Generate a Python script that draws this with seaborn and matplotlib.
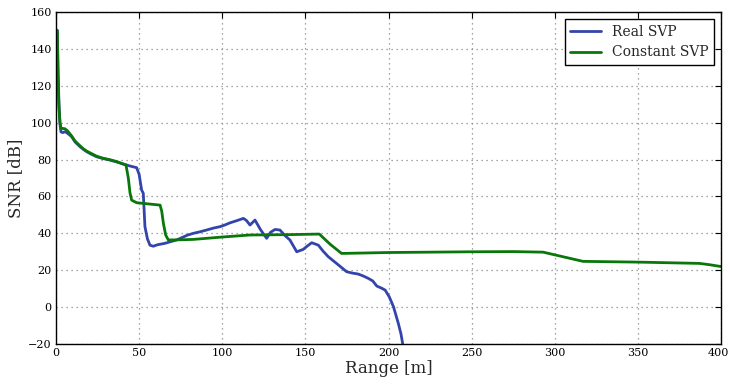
import numpy as np
import pandas as pd
import seaborn as sns
import matplotlib
matplotlib.use("Agg")
import matplotlib.pyplot as plt
import matplotlib.transforms as mtransforms

# Data
real_x = [0.8, 1.2, 1.8, 2.4, 3.0, 4.0, 5.5, 6.5, 8.0, 9.4, 11.5, 14.4, 16.5, 18.4, 21.0, 24.5, 28.0, 32.5,
          36.5, 40.5, 44.5, 48.5, 50.0, 51.5, 52.5, 53.5, 55.0, 56.5, 58.5, 61.0, 65.6, 69.0, 72.6, 76.0, 79.0, 82.6,
          86.5, 90.6, 94.5, 98.6, 101.5, 104.7, 108.5, 112.7, 114.5, 116.7, 119.7, 123.0, 126.7, 129.0,
          131.7, 134.7, 137.5, 140.7, 144.8, 148.7, 151.0, 153.8, 157.8, 160.5, 163.8, 169.0, 174.8,
          178.0, 181.9, 185.0, 188.0, 190.5, 193.0, 196.0, 198.0, 200.5, 203.0, 205.9, 207.5, 208.5]
real_y = [150, 130, 110, 99, 95, 94.6, 95.1, 94.5, 93.5, 92.4, 89.5, 87.0, 85.5, 84.3, 83.0, 81.5, 80.6, 79.7,
          78.7, 77.6, 76.5, 75.6, 72.0, 63.5, 61.7, 43.6, 37.0, 33.6, 33.0, 33.8, 34.6, 35.5, 36.4, 37.8, 39.0, 40.0,
          40.8, 41.8, 42.8, 43.6, 44.5, 45.7, 46.8, 48.1, 47.0, 44.5, 47.2, 42.0, 37.3, 40.5,
          42.1, 41.8, 39.0, 36.4, 30.0, 31.3, 33.0, 34.9, 33.6, 30.5, 27.3, 23.5, 19.2,
          18.5, 17.9, 16.8, 15.5, 14.2, 11.4, 10.2, 9.2, 5.5, 0.2, -8.8, -14.5, -19.7]

const_x = [0.8, 1.2, 1.8, 2.4, 3.0, 3.4, 5.4, 7.0, 9.4, 11.5, 14.4, 16.5, 18.4, 21.0, 24.5, 28.0, 32.5,
           36.5, 40.5, 42.1, 43.5, 44.5, 45.5, 48.5, 55.0, 62.6, 63.6, 64.6, 66.0, 67.6, 75.0, 82.6,
           100.0, 116.7, 140.0, 158.4, 165.0, 171.8, 200.0, 250.0, 275.0, 293.0, 305.0, 317.0, 350.0,
           387.0, 393.0, 400.0]
const_y = [150, 125, 108, 100, 97, 96.9, 96.7, 95.5, 92.8, 90.0, 87.5, 85.8, 84.6, 83.4, 81.8, 80.8, 79.9,
           78.9, 77.5, 77.0, 70.0, 62.0, 58.0, 56.6, 56.0, 55.3, 52.0, 45.4, 39.0, 36.4, 36.5, 36.7,
           38.0, 39.1, 39.3, 39.6, 34.0, 29.1, 29.6, 30.0, 30.1, 29.8, 27.3, 24.8, 24.4,
           23.7, 23.0, 22.0]

df = pd.concat([
    pd.DataFrame({"Range": real_x, "SNR": real_y, "Model": "Real SVP"}),
    pd.DataFrame({"Range": const_x, "SNR": const_y, "Model": "Constant SVP"}),
], ignore_index=True)

sns.set_theme(style="white")
plt.rcParams["font.family"] = ["DejaVu Serif"]
plt.rcParams["mathtext.fontset"] = "dejavuserif"

fig = plt.figure(figsize=(7.3, 3.85), dpi=100)
ax = fig.add_axes([56 / 730, 1 - 344 / 385, (721 - 56) / 730, (344 - 12) / 385])

sns.lineplot(data=df, x="Range", y="SNR", hue="Model", sort=False, estimator=None,
             palette={"Real SVP": "#3344aa", "Constant SVP": "#0a770a"},
             linewidth=2.0, ax=ax)

ax.set_xlim(0, 400)
ax.set_ylim(-20, 160)
ax.set_xticks(np.arange(0, 401, 50))
ax.set_yticks(np.arange(-20, 161, 20))
ax.set_xlabel("Range [m]", fontsize=12, labelpad=1)
ax.set_ylabel("SNR [dB]", fontsize=12, labelpad=3)
ax.tick_params(axis="both", direction="in", top=True, right=True, length=4, width=0.8,
               labelsize=8, colors="black", pad=3)
ax.grid(True, linestyle=(0, (1, 3)), color="#888888", linewidth=0.9)
for s in ax.spines.values():
    s.set_color("black")
    s.set_linewidth(1.0)

# nudge the last x tick label so it stays inside the figure
last = ax.get_xticklabels()[-1]
last.set_transform(last.get_transform() + mtransforms.ScaledTranslation(-3 / 100, 0, fig.dpi_scale_trans))

leg = ax.legend(loc="upper right", fontsize=10, frameon=True, fancybox=False,
                borderaxespad=0.5, handlelength=2.2)
leg.get_frame().set_edgecolor("black")
leg.get_frame().set_linewidth(1.0)
leg.get_frame().set_alpha(1.0)

fig.savefig("out.png", dpi=100)
